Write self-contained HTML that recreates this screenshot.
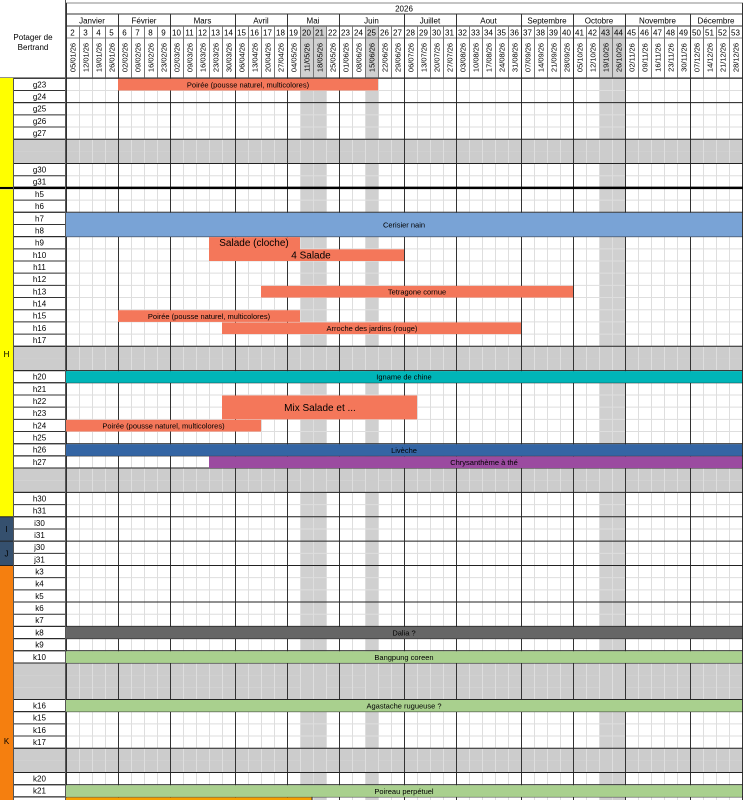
<!DOCTYPE html>
<html><head><meta charset="utf-8"><style>
html,body{margin:0;padding:0;background:#fff;width:743px;height:800px;overflow:hidden}
svg{display:block;font-family:"Liberation Sans",sans-serif}
</style></head><body>
<svg id="s" width="743" height="800" xmlns="http://www.w3.org/2000/svg"></svg>
<script>
const S=document.getElementById('s');
const X0=66,W=13,Y0=78.3,RH=12.18;
const rows=['g23','g24','g25','g26','g27','#','#','g30','g31','h5','h6','h7','h8','h9','h10','h11','h12','h13','h14','h15','h16','h17','#','#','h20','h21','h22','h23','h24','h25','h26','h27','#','#','h30','h31','i30','i31','j30','j31','k3','k4','k5','k6','k7','k8','k9','k10','#','#','#','k16','k15','k16','k17','#','#','k20','k21',''];
const dates=['05/01/26','12/01/26','19/01/26','26/01/26','02/02/26','09/02/26','16/02/26','23/02/26','02/03/26','09/03/26','16/03/26','23/03/26','30/03/26','06/04/26','13/04/26','20/04/26','27/04/26','04/05/26','11/05/26','18/05/26','25/05/26','01/06/26','08/06/26','15/06/26','22/06/26','29/06/26','06/07/26','13/07/26','20/07/26','27/07/26','03/08/26','10/08/26','17/08/26','24/08/26','31/08/26','07/09/26','14/09/26','21/09/26','28/09/26','05/10/26','12/10/26','19/10/26','26/10/26','02/11/26','09/11/26','16/11/26','23/11/26','30/11/26','07/12/26','14/12/26','21/12/26','28/12/26'];
const months=[['Janvier',0,4],['Février',4,8],['Mars',8,13],['Avril',13,17],['Mai',17,21],['Juin',21,26],['Juillet',26,30],['Aout',30,35],['Septembre',35,39],['Octobre',39,43],['Novembre',43,48],['Décembre',48,52]];
const shade=[18,19,23,41,42];
let h='';
const R=(x,y,w,hh,f)=>h+=`<rect x="${x}" y="${y}" width="${w}" height="${hh}" fill="${f}"/>`;
const L=(x1,y1,x2,y2,c,sw)=>h+=`<line x1="${x1}" y1="${y1}" x2="${x2}" y2="${y2}" stroke="${c}" stroke-width="${sw||1}"/>`;
const T=(x,y,t,fs,a,extra)=>h+=`<text x="${x}" y="${y}" font-size="${fs}" text-anchor="${a||'middle'}" fill="#000" ${extra||''}>${t}</text>`;
const ry=i=>Y0+i*RH;
shade.forEach(i=>R(X0+i*W,26,W,800-26,'#d0d0d0'));
rows.forEach((r,i)=>{if(r==='#')R(13,ry(i),730,RH,'#cccccc');});
for(let i=0;i<=52;i++){L(X0+i*W+0.5,78,X0+i*W+0.5,800,'#dedede');}
for(let i=0;i<=rows.length;i++){
 const a=rows[i-1],b=rows[i];
 if(a==='#'&&b==='#')continue;
 L(13,ry(i),743,ry(i),'#dedede');
 L(13,ry(i),65,ry(i),'#333');
}
L(66,3,743,3,'#888');L(66,14,743,14,'#333');L(66,26,743,26,'#333');L(66,38,743,38,'#888');L(0,78,743,78,'#222');
T(404,11.5,'2026',8);
months.forEach(m=>{T(X0+(m[1]+m[2])/2*W,23.5,m[0],8);});
for(let i=0;i<52;i++){const x=X0+i*W;T(x+6.5,35.5,i+2,8);
 h+=`<text font-size="7.5" text-anchor="middle" fill="#000" transform="translate(${x+9.3},57.5) rotate(-90)">${dates[i]}</text>`;
 L(x+0.5,26,x+0.5,78,'#777');}
months.forEach(m=>{const x=X0+m[1]*W+0.5;L(x,14,x,800,'#333');});
L(742.5,3,742.5,800,'#333');L(66.5,3,66.5,800,'#333');
[0,2,5,7,11,13,22,24,25,30,31,32,34,36,38,40,43,45,46,47,48,51,52,55,57,58,59].forEach(i=>L(13,ry(i),743,ry(i),'#222'));
L(0,ry(9),743,ry(9),'#000',2.5);
L(65.5,0,65.5,800,'#555');L(13.5,78,13.5,800,'#555');
R(0,78,13,ry(9)-79,'#ffff00');R(0,ry(9)+1.5,13,ry(36)-ry(9)-1.5,'#ffff00');
R(0,ry(36),13,RH*2,'#35506e');R(0,ry(38),13,RH*2,'#35506e');R(0,ry(40),13,800-ry(40),'#f57f0f');
L(0,ry(38),13,ry(38),'#222');L(0,ry(40),13,ry(40),'#222');L(0,ry(36),13,ry(36),'#222');
T(6.5,357,'H',8);T(6.5,ry(37)+3,'I',8);T(6.5,ry(39)+3,'J',8);T(6.5,744,'K',8);
rows.forEach((r,i)=>{if(r&&r!=='#')T(39.5,ry(i)+9,r,8);});
T(33,40,'Potager de',8);T(33,50,'Bertrand',8);
const SAL='#f4775a';
function bar(w1,w2,r0,n,col,txt,tx,fs,tc){const x=X0+w1*W,x2=X0+w2*W;R(x,ry(r0)+0.5,x2-x,RH*n-0.5,col);
 if(txt)T(tx||(x+x2)/2,ry(r0)+RH*n/2+3,txt,fs||7.5,'middle',tc?`fill="${tc}"`:'');}
bar(4,24,0,1,SAL,'Poirée (pousse naturel, multicolores)');
bar(0,52,11,2,'#79a3d6','Cerisier nain',404);
bar(11,18,13,2,SAL);
bar(11,26,14,1,SAL);
T(254,ry(13)+9.5,'Salade (cloche)',10);T(311,ry(14)+9.5,'4 Salade',10);
bar(15,39,17,1,SAL,'Tetragone cornue',417);
bar(4,18,19,1,SAL,'Poirée (pousse naturel, multicolores)');
bar(12,35,20,1,SAL,'Arroche des jardins (rouge)',372);
bar(0,52,24,1,'#00b5b8','Igname de chine',404);
bar(12,27,26,2,SAL);T(320,ry(27)+4,'Mix Salade et ...',10);
bar(0,15,28,1,SAL,'Poirée (pousse naturel, multicolores)');
bar(0,52,30,1,'#3465a4','Livèche',404);
bar(11,52,31,1,'#9b4ba0','Chrysanthème à thé',484);
bar(0,52,45,1,'#666666','Dalia ?',404);
bar(0,52,47,1,'#a9d08e','Bangpung coreen',404);
bar(0,52,51,1,'#a9d08e','Agastache rugueuse ?',404);
bar(0,52,58,1,'#a9d08e','Poireau perpétuel',404);
R(66,ry(59)+0.5,246,5,'#f5a000');L(312,ry(59),312,800,'#333');
S.innerHTML=h;
</script>
</body></html>
